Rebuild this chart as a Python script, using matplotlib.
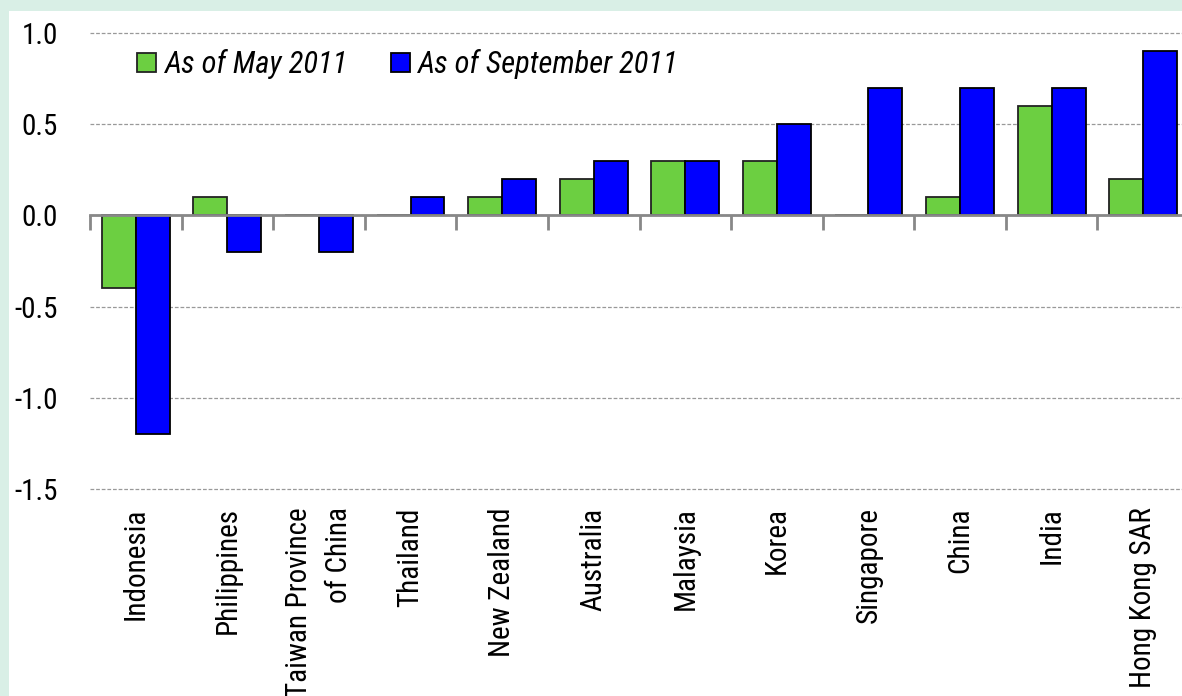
import matplotlib
matplotlib.use("Agg")
import matplotlib.pyplot as plt
import numpy as np
from matplotlib.patches import Rectangle, Patch

categories = ["Indonesia", "Philippines", "Taiwan Province\nof China", "Thailand",
              "New Zealand", "Australia", "Malaysia", "Korea", "Singapore",
              "China", "India", "Hong Kong SAR"]
may_2011 = [-0.4, 0.1, 0.0, 0.0, 0.1, 0.2, 0.3, 0.3, 0.0, 0.1, 0.6, 0.2]
sep_2011 = [-1.2, -0.2, -0.2, 0.1, 0.2, 0.3, 0.3, 0.5, 0.7, 0.7, 0.7, 0.9]
series_labels = ["As of May 2011", "As of September 2011"]
yticks = [-1.5, -1.0, -0.5, 0.0, 0.5, 1.0]
ytick_labels = ["-1.5", "-1.0", "-0.5", "0.0", "0.5", "1.0"]

plt.rcParams['font.family'] = ['Liberation Sans Narrow', 'Roboto Condensed', 'DejaVu Sans']

W, H = 1182, 696
fig = plt.figure(figsize=(W / 100, H / 100), dpi=100)
fig.patch.set_facecolor("#d9efe6")
fig.patches.append(Rectangle((9 / W, 0), 1, 1 - 11 / H, transform=fig.transFigure,
                             facecolor="white", edgecolor="none", zorder=-10))

ymin, ymax = -1.51, 1.01
ppu = (489 - 33) / 2.5
left, right = 90, 1189
top = 33 - (ymax - 1.0) * ppu
bottom = 489 + (-1.5 - ymin) * ppu
ax = fig.add_axes([left / W, 1 - bottom / H, (right - left) / W, (bottom - top) / H])
ax.set_facecolor("none")

x = np.arange(len(categories))
bw = 0.37
green = "#6ccf41"
blue = "#0000ff"
ax.bar(x - bw / 2, may_2011, width=bw, color=green, edgecolor="#222222", linewidth=1.3, zorder=3)
ax.bar(x + bw / 2, sep_2011, width=bw, color=blue, edgecolor="black", linewidth=1.3, zorder=3)

ax.set_xlim(-0.5, len(categories) - 0.5)
ax.set_ylim(ymin, ymax)
ax.set_yticks(yticks)
ax.set_yticklabels(ytick_labels, fontsize=21)
ax.tick_params(axis="y", length=0, pad=23)
ax.yaxis.grid(True, color="#999999", linestyle=(0, (3, 1.5)), linewidth=0.9)
ax.set_axisbelow(True)

for s in ["left", "right", "top"]:
    ax.spines[s].set_visible(False)
ax.spines["bottom"].set_position(("data", 0))
ax.spines["bottom"].set_color("#888888")
ax.spines["bottom"].set_linewidth(2)
ax.spines["bottom"].set_zorder(4)
ax.set_xticks(np.arange(len(categories) + 1) - 0.5)
ax.set_xticklabels([])
ax.tick_params(axis="x", length=11, width=2, color="#888888", direction="out")

sec = ax.secondary_xaxis(0)
sec.set_xticks(x)
sec.set_xticklabels(categories, rotation=90, fontsize=21, va="top", ha="center",
                    multialignment="right", linespacing=1.55)
sec.tick_params(axis="x", length=0, pad=12)
sec.spines["bottom"].set_visible(False)

handles = [Patch(facecolor=green, edgecolor="#222222", linewidth=1.3),
           Patch(facecolor=blue, edgecolor="black", linewidth=1.3)]
leg = ax.legend(handles, series_labels, loc="upper left",
                bbox_to_anchor=((125 - left) / (right - left), 1 - (37 - top) / (bottom - top)),
                ncol=2, frameon=False, prop={"style": "italic", "size": 22},
                handlelength=0.62, handleheight=0.62, handletextpad=0.28, columnspacing=1.4,
                borderaxespad=0)

fig.savefig("out.png", dpi=100)
